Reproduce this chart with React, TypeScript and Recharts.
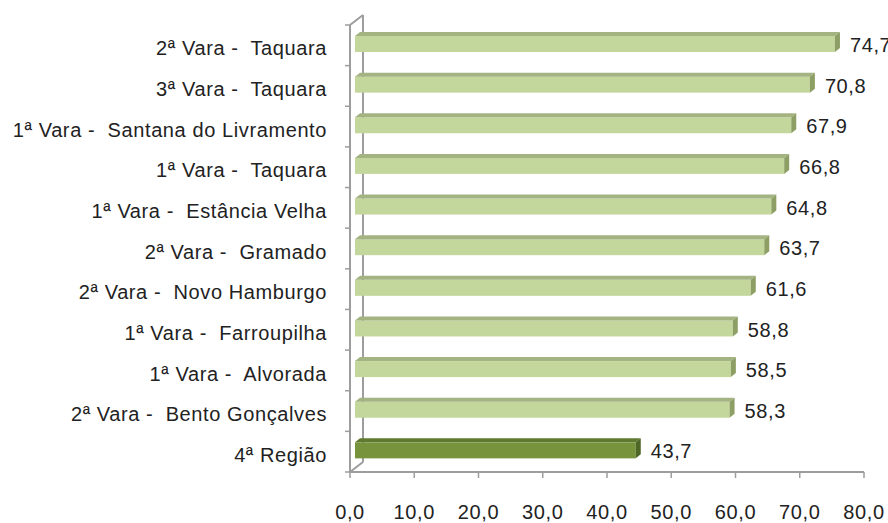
import React from 'react';
import * as R from 'recharts';
import { BarChart, Bar, XAxis, YAxis, LabelList } from 'recharts';

const categories = [
  '2ª Vara -  Taquara',
  '3ª Vara -  Taquara',
  '1ª Vara -  Santana do Livramento',
  '1ª Vara -  Taquara',
  '1ª Vara -  Estância Velha',
  '2ª Vara -  Gramado',
  '2ª Vara -  Novo Hamburgo',
  '1ª Vara -  Farroupilha',
  '1ª Vara -  Alvorada',
  '2ª Vara -  Bento Gonçalves',
  '4ª Região',
];
const values = [74.7, 70.8, 67.9, 66.8, 64.8, 63.7, 61.6, 58.8, 58.5, 58.3, 43.7];
const highlighted = ['4ª Região'];
const xTicks = [0, 10, 20, 30, 40, 50, 60, 70, 80];

const data = categories.map((name, i) => ({ name, value: values[i], hi: highlighted.includes(name) }));

const fmt = (v: number) => Number(v).toFixed(1).replace('.', ',');

const FONT = '"Liberation Sans", Arial, sans-serif';
const FS = 20;
const LS = 0.6;
const TEXT = '#222222';
const GRID = '#9d9d9d';
const DX = 5;
const DY = -3;
const DEPTH_X = 5;
const DEPTH_Y = 4;

const Bar3D = (props: any) => {
  const { x, y, width, height, payload } = props;
  if (width == null || height == null) return null;
  const front = payload && payload.hi ? '#77933c' : '#c3d69b';
  const top = payload && payload.hi ? '#5f7a2e' : '#a4b382';
  const side = payload && payload.hi ? '#4f6726' : '#8e9f65';
  const x0 = x + DX;
  const x1 = x + width + DX;
  const yt = y + DY;
  const yf = yt + DEPTH_Y;
  const yb = yt + height;
  return (
    <g>
      <rect x={x0} y={yf} width={x1 - x0} height={yb - yf} fill={front} />
      <polygon points={`${x0},${yf} ${x0 + DEPTH_X},${yt} ${x1 + DEPTH_X},${yt} ${x1},${yf}`} fill={top} />
      <polygon points={`${x1},${yf} ${x1 + DEPTH_X},${yt} ${x1 + DEPTH_X},${yb - DEPTH_Y} ${x1},${yb}`} fill={side} />
    </g>
  );
};

const YTick = (props: any) => {
  const { x, y, payload, index } = props;
  const half = payload && payload.offset ? payload.offset : 20.3;
  const axisX = x + 5 + 18;
  return (
    <g>
      <line x1={axisX - 5} x2={axisX} y1={y - half} y2={y - half} stroke={GRID} strokeWidth={1.5} />
      {index === categories.length - 1 && (
        <line x1={axisX - 5} x2={axisX} y1={y + half} y2={y + half} stroke={GRID} strokeWidth={1.5} />
      )}
      <text
        x={x}
        y={y + 3}
        dy="0.355em"
        textAnchor="end"
        fill={TEXT}
        fontSize={FS}
        fontFamily={FONT}
        letterSpacing={LS}
        style={{ whiteSpace: 'pre' }}
      >
        {payload.value}
      </text>
    </g>
  );
};

const usePlot: any = (R as any).usePlotArea || (R as any).useOffset || (() => null);

const Walls = () => {
  const area = usePlot();
  if (!area) return null;
  const L = area.x != null ? area.x : area.left;
  const T = area.y != null ? area.y : area.top;
  const H = area.height;
  const B = T + H;
  return (
    <g>
      <line x1={L + 13} y1={T - 10} x2={L + 13} y2={B - 10} stroke={GRID} strokeWidth={2} />
      <line x1={L} y1={T} x2={L + 13} y2={T - 10} stroke={GRID} strokeWidth={2} />
      <line x1={L} y1={B} x2={L + 13} y2={B - 10} stroke={GRID} strokeWidth={2} />
    </g>
  );
};

export default function App() {
  return (
    <div style={{ position: 'absolute', left: 0, top: 0, width: 888, height: 523, background: '#fff' }}>
      <BarChart
        width={888}
        height={523}
        data={data}
        layout="vertical"
        margin={{ top: 25, right: 24, bottom: 0, left: 0 }}
        barCategoryGap={0}
      >
        <Walls />
        <XAxis
          type="number"
          domain={[0, 80]}
          ticks={xTicks}
          tickFormatter={fmt}
          height={51}
          tickSize={6}
          tickMargin={27}
          stroke={GRID}
          axisLine={{ stroke: GRID, strokeWidth: 2 }}
          tickLine={{ stroke: GRID, strokeWidth: 1.5 }}
          tick={{ fill: TEXT, fontSize: FS, fontFamily: FONT, letterSpacing: LS }}
          interval={0}
        />
        <YAxis
          type="category"
          dataKey="name"
          width={350}
          tickSize={5}
          tickMargin={18}
          tickLine={false}
          axisLine={{ stroke: GRID, strokeWidth: 2 }}
          tick={<YTick />}
          interval={0}
        />
        <Bar dataKey="value" barSize={20} shape={<Bar3D />} isAnimationActive={false}>
          <LabelList
            dataKey="value"
            position="right"
            offset={20}
            formatter={(v: any) => fmt(v)}
            fill={TEXT}
            fontSize={FS}
            fontFamily={FONT}
            letterSpacing={LS}
          />
        </Bar>
      </BarChart>
    </div>
  );
}
